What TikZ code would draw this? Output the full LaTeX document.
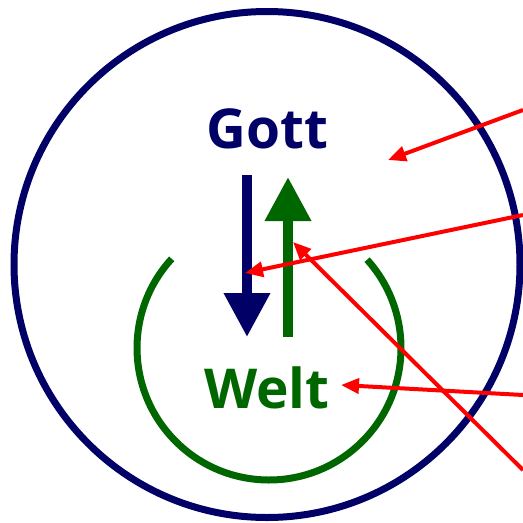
\documentclass[tikz,border=0pt]{standalone}
\usepackage{fontspec}
\setmainfont{Open Sans}
\usetikzlibrary{arrows.meta}
\definecolor{navyc}{RGB}{0,0,102}
\definecolor{greenc}{RGB}{0,102,0}
\tikzset{
  bigtext/.style={font=\bfseries\fontsize{55}{60}\selectfont, anchor=base, inner sep=0pt},
  redarr/.style={red, line width=4pt, -{Triangle[length=18pt,width=15pt]}},
  fatarr/.style={line width=10pt, -{Triangle[length=44pt,width=44pt]}}
}
\begin{document}
\begin{tikzpicture}[x=1pt,y=-1pt]
\useasboundingbox (0,0) rectangle (523,523);
% outer circle
\draw[navyc, line width=7pt] (267,264.5) circle[radius=253];
% green open arc
\coordinate (ac) at (269,348);
\draw[greenc, line width=7pt] (ac) ++(-42:132) arc[start angle=-42, end angle=222.5, radius=132];
% texts
\node[bigtext, text=navyc] (gott) at (267.5,148) {Gott};
\node[bigtext, text=greenc] (welt) at (267,408) {Welt};
% blue and green arrows
\coordinate (bt) at (247,175);
\coordinate (bb) at (247,337);
\draw[navyc, fatarr] (bt) -- (bb);
\coordinate (gb) at (288,337);
\coordinate (gt) at (288,177);
\draw[greenc, fatarr] (gb) -- (gt);
% red pointers
\coordinate (r1s) at (523,110);
\coordinate (r1e) at (388,160);
\coordinate (r2s) at (523,215);
\coordinate (r2e) at (245,273);
\coordinate (r3s) at (523,395);
\coordinate (r3e) at (341,385);
\coordinate (r4s) at (523,470);
\coordinate (r4e) at (293,242);
\draw[redarr] (r1s) -- (r1e);
\draw[redarr] (r2s) -- (r2e);
\draw[redarr] (r3s) -- (r3e);
\draw[redarr] (r4s) -- (r4e);
\end{tikzpicture}
\end{document}
